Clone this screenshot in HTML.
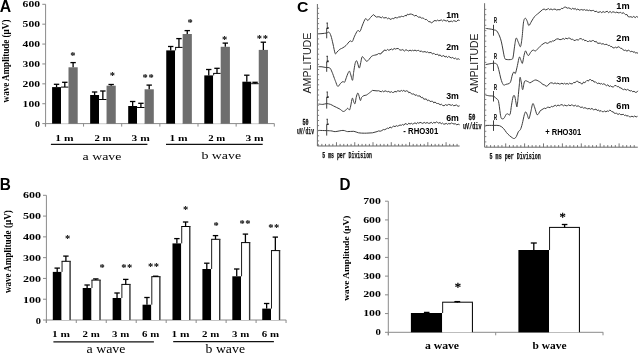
<!DOCTYPE html>
<html><head><meta charset="utf-8"><style>
html,body{margin:0;padding:0;background:#fff;}
body{width:639px;height:354px;overflow:hidden;}
svg{display:block;filter:grayscale(1);}
</style></head><body>
<svg width="639" height="354" viewBox="0 0 639 354">
<rect width="639" height="354" fill="#fff"/>
<text x="-0.20" y="11.60" font-family="'Liberation Sans', sans-serif" font-size="16.2" font-weight="bold" fill="#000" textLength="11.40" lengthAdjust="spacingAndGlyphs" >A</text>
<line x1="45.60" y1="4.30" x2="45.60" y2="126.60" stroke="#8a8a8a" stroke-width="1"/>
<line x1="45.60" y1="123.60" x2="274.40" y2="123.60" stroke="#8a8a8a" stroke-width="1"/>
<line x1="42.30" y1="4.30" x2="45.60" y2="4.30" stroke="#8a8a8a" stroke-width="1"/>
<text x="22.60" y="7.20" font-family="'Liberation Serif', serif" font-size="8.2" font-weight="bold" fill="#000" textLength="17.40" lengthAdjust="spacingAndGlyphs" >600</text>
<line x1="42.30" y1="24.18" x2="45.60" y2="24.18" stroke="#8a8a8a" stroke-width="1"/>
<text x="22.60" y="27.08" font-family="'Liberation Serif', serif" font-size="8.2" font-weight="bold" fill="#000" textLength="17.40" lengthAdjust="spacingAndGlyphs" >500</text>
<line x1="42.30" y1="44.07" x2="45.60" y2="44.07" stroke="#8a8a8a" stroke-width="1"/>
<text x="22.60" y="46.97" font-family="'Liberation Serif', serif" font-size="8.2" font-weight="bold" fill="#000" textLength="17.40" lengthAdjust="spacingAndGlyphs" >400</text>
<line x1="42.30" y1="63.95" x2="45.60" y2="63.95" stroke="#8a8a8a" stroke-width="1"/>
<text x="22.60" y="66.85" font-family="'Liberation Serif', serif" font-size="8.2" font-weight="bold" fill="#000" textLength="17.40" lengthAdjust="spacingAndGlyphs" >300</text>
<line x1="42.30" y1="83.83" x2="45.60" y2="83.83" stroke="#8a8a8a" stroke-width="1"/>
<text x="22.60" y="86.73" font-family="'Liberation Serif', serif" font-size="8.2" font-weight="bold" fill="#000" textLength="17.40" lengthAdjust="spacingAndGlyphs" >200</text>
<line x1="42.30" y1="103.72" x2="45.60" y2="103.72" stroke="#8a8a8a" stroke-width="1"/>
<text x="22.60" y="106.62" font-family="'Liberation Serif', serif" font-size="8.2" font-weight="bold" fill="#000" textLength="17.40" lengthAdjust="spacingAndGlyphs" >100</text>
<line x1="42.30" y1="123.60" x2="45.60" y2="123.60" stroke="#8a8a8a" stroke-width="1"/>
<text x="35.00" y="126.50" font-family="'Liberation Serif', serif" font-size="8.2" font-weight="bold" fill="#000" textLength="5.00" lengthAdjust="spacingAndGlyphs" >0</text>
<line x1="45.40" y1="123.60" x2="45.40" y2="126.60" stroke="#8a8a8a" stroke-width="1"/>
<line x1="83.55" y1="123.60" x2="83.55" y2="126.60" stroke="#8a8a8a" stroke-width="1"/>
<line x1="121.70" y1="123.60" x2="121.70" y2="126.60" stroke="#8a8a8a" stroke-width="1"/>
<line x1="159.85" y1="123.60" x2="159.85" y2="126.60" stroke="#8a8a8a" stroke-width="1"/>
<line x1="198.00" y1="123.60" x2="198.00" y2="126.60" stroke="#8a8a8a" stroke-width="1"/>
<line x1="236.15" y1="123.60" x2="236.15" y2="126.60" stroke="#8a8a8a" stroke-width="1"/>
<line x1="274.30" y1="123.60" x2="274.30" y2="126.60" stroke="#8a8a8a" stroke-width="1"/>
<rect x="52.10" y="87.10" width="8.90" height="36.50" fill="#000"/>
<rect x="61.00" y="87.10" width="7.50" height="36.50" fill="#fff"/>
<line x1="61.00" y1="87.10" x2="68.50" y2="87.10" stroke="#000" stroke-width="1.0"/>
<rect x="68.50" y="67.30" width="9.20" height="56.30" fill="#6e6e6e"/>
<line x1="56.55" y1="87.10" x2="56.55" y2="84.30" stroke="#000" stroke-width="1.3"/>
<line x1="53.85" y1="84.30" x2="59.25" y2="84.30" stroke="#000" stroke-width="1.3"/>
<line x1="64.80" y1="87.10" x2="64.80" y2="82.30" stroke="#000" stroke-width="1.3"/>
<line x1="62.10" y1="82.30" x2="67.50" y2="82.30" stroke="#000" stroke-width="1.3"/>
<line x1="73.10" y1="67.30" x2="73.10" y2="62.60" stroke="#000" stroke-width="1.3"/>
<line x1="70.40" y1="62.60" x2="75.80" y2="62.60" stroke="#000" stroke-width="1.3"/>
<rect x="90.15" y="95.00" width="8.90" height="28.60" fill="#000"/>
<rect x="99.05" y="99.50" width="7.50" height="24.10" fill="#fff"/>
<line x1="99.05" y1="99.50" x2="106.55" y2="99.50" stroke="#000" stroke-width="1.0"/>
<rect x="106.55" y="85.70" width="9.20" height="37.90" fill="#6e6e6e"/>
<line x1="94.60" y1="95.00" x2="94.60" y2="92.00" stroke="#000" stroke-width="1.3"/>
<line x1="91.90" y1="92.00" x2="97.30" y2="92.00" stroke="#000" stroke-width="1.3"/>
<line x1="102.85" y1="99.50" x2="102.85" y2="91.00" stroke="#000" stroke-width="1.3"/>
<line x1="100.15" y1="91.00" x2="105.55" y2="91.00" stroke="#000" stroke-width="1.3"/>
<line x1="111.15" y1="85.70" x2="111.15" y2="84.50" stroke="#000" stroke-width="1.3"/>
<line x1="108.45" y1="84.50" x2="113.85" y2="84.50" stroke="#000" stroke-width="1.3"/>
<rect x="128.20" y="106.00" width="8.90" height="17.60" fill="#000"/>
<rect x="137.10" y="107.50" width="7.50" height="16.10" fill="#fff"/>
<line x1="137.10" y1="107.50" x2="144.60" y2="107.50" stroke="#000" stroke-width="1.0"/>
<rect x="144.60" y="89.30" width="9.20" height="34.30" fill="#6e6e6e"/>
<line x1="132.65" y1="106.00" x2="132.65" y2="101.50" stroke="#000" stroke-width="1.3"/>
<line x1="129.95" y1="101.50" x2="135.35" y2="101.50" stroke="#000" stroke-width="1.3"/>
<line x1="140.90" y1="107.50" x2="140.90" y2="103.30" stroke="#000" stroke-width="1.3"/>
<line x1="138.20" y1="103.30" x2="143.60" y2="103.30" stroke="#000" stroke-width="1.3"/>
<line x1="149.20" y1="89.30" x2="149.20" y2="85.10" stroke="#000" stroke-width="1.3"/>
<line x1="146.50" y1="85.10" x2="151.90" y2="85.10" stroke="#000" stroke-width="1.3"/>
<rect x="166.25" y="50.40" width="8.90" height="73.20" fill="#000"/>
<rect x="175.15" y="47.40" width="7.50" height="76.20" fill="#fff"/>
<line x1="175.15" y1="47.40" x2="182.65" y2="47.40" stroke="#000" stroke-width="1.0"/>
<line x1="175.60" y1="47.40" x2="175.60" y2="50.40" stroke="#000" stroke-width="0.9"/>
<rect x="182.65" y="34.00" width="9.20" height="89.60" fill="#6e6e6e"/>
<line x1="170.70" y1="50.40" x2="170.70" y2="46.50" stroke="#000" stroke-width="1.3"/>
<line x1="168.00" y1="46.50" x2="173.40" y2="46.50" stroke="#000" stroke-width="1.3"/>
<line x1="178.95" y1="47.40" x2="178.95" y2="38.60" stroke="#000" stroke-width="1.3"/>
<line x1="176.25" y1="38.60" x2="181.65" y2="38.60" stroke="#000" stroke-width="1.3"/>
<line x1="187.25" y1="34.00" x2="187.25" y2="30.60" stroke="#000" stroke-width="1.3"/>
<line x1="184.55" y1="30.60" x2="189.95" y2="30.60" stroke="#000" stroke-width="1.3"/>
<rect x="204.30" y="75.40" width="8.90" height="48.20" fill="#000"/>
<rect x="213.20" y="73.40" width="7.50" height="50.20" fill="#fff"/>
<line x1="213.20" y1="73.40" x2="220.70" y2="73.40" stroke="#000" stroke-width="1.0"/>
<line x1="213.65" y1="73.40" x2="213.65" y2="75.40" stroke="#000" stroke-width="0.9"/>
<rect x="220.70" y="46.80" width="9.20" height="76.80" fill="#6e6e6e"/>
<line x1="208.75" y1="75.40" x2="208.75" y2="69.50" stroke="#000" stroke-width="1.3"/>
<line x1="206.05" y1="69.50" x2="211.45" y2="69.50" stroke="#000" stroke-width="1.3"/>
<line x1="217.00" y1="73.40" x2="217.00" y2="68.30" stroke="#000" stroke-width="1.3"/>
<line x1="214.30" y1="68.30" x2="219.70" y2="68.30" stroke="#000" stroke-width="1.3"/>
<line x1="225.30" y1="46.80" x2="225.30" y2="43.10" stroke="#000" stroke-width="1.3"/>
<line x1="222.60" y1="43.10" x2="228.00" y2="43.10" stroke="#000" stroke-width="1.3"/>
<rect x="242.35" y="81.70" width="8.90" height="41.90" fill="#000"/>
<rect x="251.25" y="83.70" width="7.50" height="39.90" fill="#fff"/>
<line x1="251.25" y1="83.70" x2="258.75" y2="83.70" stroke="#000" stroke-width="1.0"/>
<rect x="258.75" y="49.90" width="9.20" height="73.70" fill="#6e6e6e"/>
<line x1="246.80" y1="81.70" x2="246.80" y2="75.20" stroke="#000" stroke-width="1.3"/>
<line x1="244.10" y1="75.20" x2="249.50" y2="75.20" stroke="#000" stroke-width="1.3"/>
<line x1="255.05" y1="83.70" x2="255.05" y2="82.30" stroke="#000" stroke-width="1.3"/>
<line x1="252.35" y1="82.30" x2="257.75" y2="82.30" stroke="#000" stroke-width="1.3"/>
<line x1="263.35" y1="49.90" x2="263.35" y2="42.20" stroke="#000" stroke-width="1.3"/>
<line x1="260.65" y1="42.20" x2="266.05" y2="42.20" stroke="#000" stroke-width="1.3"/>
<text x="72.90" y="59.36" font-family="'Liberation Serif', serif" font-size="10.5" font-weight="bold" text-anchor="middle">*</text>
<text x="112.30" y="79.47" font-family="'Liberation Serif', serif" font-size="10.5" font-weight="bold" text-anchor="middle">*</text>
<text x="145.20" y="81.47" font-family="'Liberation Serif', serif" font-size="10.5" font-weight="bold" text-anchor="middle">*</text>
<text x="151.00" y="81.47" font-family="'Liberation Serif', serif" font-size="10.5" font-weight="bold" text-anchor="middle">*</text>
<text x="190.10" y="26.17" font-family="'Liberation Serif', serif" font-size="10.5" font-weight="bold" text-anchor="middle">*</text>
<text x="224.70" y="43.46" font-family="'Liberation Serif', serif" font-size="10.5" font-weight="bold" text-anchor="middle">*</text>
<text x="259.40" y="42.27" font-family="'Liberation Serif', serif" font-size="10.5" font-weight="bold" text-anchor="middle">*</text>
<text x="265.30" y="42.27" font-family="'Liberation Serif', serif" font-size="10.5" font-weight="bold" text-anchor="middle">*</text>
<text x="55.30" y="140.70" font-family="'Liberation Serif', serif" font-size="8.6" font-weight="bold" fill="#000" textLength="18.20" lengthAdjust="spacingAndGlyphs" >1 m</text>
<text x="94.50" y="140.70" font-family="'Liberation Serif', serif" font-size="8.6" font-weight="bold" fill="#000" textLength="17.00" lengthAdjust="spacingAndGlyphs" >2 m</text>
<text x="131.60" y="140.70" font-family="'Liberation Serif', serif" font-size="8.6" font-weight="bold" fill="#000" textLength="18.20" lengthAdjust="spacingAndGlyphs" >3 m</text>
<text x="169.50" y="140.70" font-family="'Liberation Serif', serif" font-size="8.6" font-weight="bold" fill="#000" textLength="18.20" lengthAdjust="spacingAndGlyphs" >1 m</text>
<text x="208.20" y="140.70" font-family="'Liberation Serif', serif" font-size="8.6" font-weight="bold" fill="#000" textLength="17.00" lengthAdjust="spacingAndGlyphs" >2 m</text>
<text x="245.40" y="140.70" font-family="'Liberation Serif', serif" font-size="8.6" font-weight="bold" fill="#000" textLength="18.20" lengthAdjust="spacingAndGlyphs" >3 m</text>
<line x1="50.90" y1="144.40" x2="147.40" y2="144.40" stroke="#111" stroke-width="1.2"/>
<line x1="166.00" y1="144.40" x2="262.70" y2="144.40" stroke="#111" stroke-width="1.2"/>
<text x="82.50" y="159.60" font-family="'Liberation Serif', serif" font-size="11.4" font-weight="normal" fill="#000" textLength="38.90" lengthAdjust="spacingAndGlyphs" >a wave</text>
<text x="201.40" y="159.40" font-family="'Liberation Serif', serif" font-size="11.4" font-weight="normal" fill="#000" textLength="39.70" lengthAdjust="spacingAndGlyphs" >b wave</text>
<text transform="translate(9.30,61.00) rotate(-90)" x="-41.40" y="0" font-family="'Liberation Serif', serif" font-size="10" font-weight="bold" fill="#000" textLength="82.80" lengthAdjust="spacingAndGlyphs">wave Amplitude (µV)</text>
<text x="-0.20" y="190.00" font-family="'Liberation Sans', sans-serif" font-size="16.0" font-weight="bold" fill="#000" textLength="11.10" lengthAdjust="spacingAndGlyphs" >B</text>
<line x1="46.40" y1="195.30" x2="46.40" y2="323.00" stroke="#8a8a8a" stroke-width="1"/>
<line x1="46.40" y1="320.00" x2="286.20" y2="320.00" stroke="#8a8a8a" stroke-width="1"/>
<line x1="43.00" y1="195.30" x2="46.40" y2="195.30" stroke="#8a8a8a" stroke-width="1"/>
<text x="22.90" y="197.90" font-family="'Liberation Serif', serif" font-size="9.0" font-weight="bold" fill="#000" textLength="18.00" lengthAdjust="spacingAndGlyphs" >600</text>
<line x1="43.00" y1="216.08" x2="46.40" y2="216.08" stroke="#8a8a8a" stroke-width="1"/>
<text x="22.90" y="218.87" font-family="'Liberation Serif', serif" font-size="9.0" font-weight="bold" fill="#000" textLength="18.00" lengthAdjust="spacingAndGlyphs" >500</text>
<line x1="43.00" y1="236.87" x2="46.40" y2="236.87" stroke="#8a8a8a" stroke-width="1"/>
<text x="22.90" y="239.84" font-family="'Liberation Serif', serif" font-size="9.0" font-weight="bold" fill="#000" textLength="18.00" lengthAdjust="spacingAndGlyphs" >400</text>
<line x1="43.00" y1="257.65" x2="46.40" y2="257.65" stroke="#8a8a8a" stroke-width="1"/>
<text x="22.90" y="260.81" font-family="'Liberation Serif', serif" font-size="9.0" font-weight="bold" fill="#000" textLength="18.00" lengthAdjust="spacingAndGlyphs" >300</text>
<line x1="43.00" y1="278.43" x2="46.40" y2="278.43" stroke="#8a8a8a" stroke-width="1"/>
<text x="22.90" y="281.78" font-family="'Liberation Serif', serif" font-size="9.0" font-weight="bold" fill="#000" textLength="18.00" lengthAdjust="spacingAndGlyphs" >200</text>
<line x1="43.00" y1="299.22" x2="46.40" y2="299.22" stroke="#8a8a8a" stroke-width="1"/>
<text x="22.90" y="302.75" font-family="'Liberation Serif', serif" font-size="9.0" font-weight="bold" fill="#000" textLength="18.00" lengthAdjust="spacingAndGlyphs" >100</text>
<line x1="43.00" y1="320.00" x2="46.40" y2="320.00" stroke="#8a8a8a" stroke-width="1"/>
<text x="35.70" y="323.72" font-family="'Liberation Serif', serif" font-size="9.0" font-weight="bold" fill="#000" textLength="5.20" lengthAdjust="spacingAndGlyphs" >0</text>
<line x1="46.30" y1="320.00" x2="46.30" y2="323.00" stroke="#8a8a8a" stroke-width="1"/>
<line x1="76.27" y1="320.00" x2="76.27" y2="323.00" stroke="#8a8a8a" stroke-width="1"/>
<line x1="106.24" y1="320.00" x2="106.24" y2="323.00" stroke="#8a8a8a" stroke-width="1"/>
<line x1="136.21" y1="320.00" x2="136.21" y2="323.00" stroke="#8a8a8a" stroke-width="1"/>
<line x1="166.18" y1="320.00" x2="166.18" y2="323.00" stroke="#8a8a8a" stroke-width="1"/>
<line x1="196.15" y1="320.00" x2="196.15" y2="323.00" stroke="#8a8a8a" stroke-width="1"/>
<line x1="226.12" y1="320.00" x2="226.12" y2="323.00" stroke="#8a8a8a" stroke-width="1"/>
<line x1="256.09" y1="320.00" x2="256.09" y2="323.00" stroke="#8a8a8a" stroke-width="1"/>
<line x1="286.06" y1="320.00" x2="286.06" y2="323.00" stroke="#8a8a8a" stroke-width="1"/>
<rect x="52.80" y="271.90" width="8.80" height="48.10" fill="#000"/>
<rect x="61.60" y="261.30" width="9.20" height="58.70" fill="#fff"/>
<line x1="61.60" y1="261.30" x2="70.80" y2="261.30" stroke="#000" stroke-width="1.0"/>
<line x1="62.05" y1="261.30" x2="62.05" y2="271.90" stroke="#000" stroke-width="0.9"/>
<line x1="70.10" y1="261.30" x2="70.10" y2="320.00" stroke="#333" stroke-width="1.4"/>
<line x1="57.20" y1="271.90" x2="57.20" y2="268.10" stroke="#000" stroke-width="1.3"/>
<line x1="54.50" y1="268.10" x2="59.90" y2="268.10" stroke="#000" stroke-width="1.3"/>
<line x1="65.90" y1="261.30" x2="65.90" y2="256.10" stroke="#000" stroke-width="1.3"/>
<line x1="63.20" y1="256.10" x2="68.60" y2="256.10" stroke="#000" stroke-width="1.3"/>
<rect x="82.72" y="288.00" width="8.80" height="32.00" fill="#000"/>
<rect x="91.52" y="280.10" width="9.20" height="39.90" fill="#fff"/>
<line x1="91.52" y1="280.10" x2="100.72" y2="280.10" stroke="#000" stroke-width="1.0"/>
<line x1="91.97" y1="280.10" x2="91.97" y2="288.00" stroke="#000" stroke-width="0.9"/>
<line x1="100.02" y1="280.10" x2="100.02" y2="320.00" stroke="#333" stroke-width="1.4"/>
<line x1="87.12" y1="288.00" x2="87.12" y2="285.00" stroke="#000" stroke-width="1.3"/>
<line x1="84.42" y1="285.00" x2="89.82" y2="285.00" stroke="#000" stroke-width="1.3"/>
<line x1="95.82" y1="280.10" x2="95.82" y2="278.90" stroke="#000" stroke-width="1.3"/>
<line x1="93.12" y1="278.90" x2="98.52" y2="278.90" stroke="#000" stroke-width="1.3"/>
<rect x="112.64" y="298.00" width="8.80" height="22.00" fill="#000"/>
<rect x="121.44" y="284.40" width="9.20" height="35.60" fill="#fff"/>
<line x1="121.44" y1="284.40" x2="130.64" y2="284.40" stroke="#000" stroke-width="1.0"/>
<line x1="121.89" y1="284.40" x2="121.89" y2="298.00" stroke="#000" stroke-width="0.9"/>
<line x1="129.94" y1="284.40" x2="129.94" y2="320.00" stroke="#333" stroke-width="1.4"/>
<line x1="117.04" y1="298.00" x2="117.04" y2="293.00" stroke="#000" stroke-width="1.3"/>
<line x1="114.34" y1="293.00" x2="119.74" y2="293.00" stroke="#000" stroke-width="1.3"/>
<line x1="125.74" y1="284.40" x2="125.74" y2="279.40" stroke="#000" stroke-width="1.3"/>
<line x1="123.04" y1="279.40" x2="128.44" y2="279.40" stroke="#000" stroke-width="1.3"/>
<rect x="142.56" y="304.70" width="8.80" height="15.30" fill="#000"/>
<rect x="151.36" y="276.70" width="9.20" height="43.30" fill="#fff"/>
<line x1="151.36" y1="276.70" x2="160.56" y2="276.70" stroke="#000" stroke-width="1.0"/>
<line x1="151.81" y1="276.70" x2="151.81" y2="304.70" stroke="#000" stroke-width="0.9"/>
<line x1="159.86" y1="276.70" x2="159.86" y2="320.00" stroke="#333" stroke-width="1.4"/>
<line x1="146.96" y1="304.70" x2="146.96" y2="297.50" stroke="#000" stroke-width="1.3"/>
<line x1="144.26" y1="297.50" x2="149.66" y2="297.50" stroke="#000" stroke-width="1.3"/>
<line x1="155.66" y1="276.70" x2="155.66" y2="276.20" stroke="#000" stroke-width="1.3"/>
<line x1="152.96" y1="276.20" x2="158.36" y2="276.20" stroke="#000" stroke-width="1.3"/>
<rect x="172.48" y="243.40" width="8.80" height="76.60" fill="#000"/>
<rect x="181.28" y="226.50" width="9.20" height="93.50" fill="#fff"/>
<line x1="181.28" y1="226.50" x2="190.48" y2="226.50" stroke="#000" stroke-width="1.0"/>
<line x1="181.73" y1="226.50" x2="181.73" y2="243.40" stroke="#000" stroke-width="0.9"/>
<line x1="189.78" y1="226.50" x2="189.78" y2="320.00" stroke="#333" stroke-width="1.4"/>
<line x1="176.88" y1="243.40" x2="176.88" y2="238.60" stroke="#000" stroke-width="1.3"/>
<line x1="174.18" y1="238.60" x2="179.58" y2="238.60" stroke="#000" stroke-width="1.3"/>
<line x1="185.58" y1="226.50" x2="185.58" y2="222.00" stroke="#000" stroke-width="1.3"/>
<line x1="182.88" y1="222.00" x2="188.28" y2="222.00" stroke="#000" stroke-width="1.3"/>
<rect x="202.40" y="269.00" width="8.80" height="51.00" fill="#000"/>
<rect x="211.20" y="239.30" width="9.20" height="80.70" fill="#fff"/>
<line x1="211.20" y1="239.30" x2="220.40" y2="239.30" stroke="#000" stroke-width="1.0"/>
<line x1="211.65" y1="239.30" x2="211.65" y2="269.00" stroke="#000" stroke-width="0.9"/>
<line x1="219.70" y1="239.30" x2="219.70" y2="320.00" stroke="#333" stroke-width="1.4"/>
<line x1="206.80" y1="269.00" x2="206.80" y2="263.20" stroke="#000" stroke-width="1.3"/>
<line x1="204.10" y1="263.20" x2="209.50" y2="263.20" stroke="#000" stroke-width="1.3"/>
<line x1="215.50" y1="239.30" x2="215.50" y2="235.60" stroke="#000" stroke-width="1.3"/>
<line x1="212.80" y1="235.60" x2="218.20" y2="235.60" stroke="#000" stroke-width="1.3"/>
<rect x="232.32" y="276.30" width="8.80" height="43.70" fill="#000"/>
<rect x="241.12" y="242.60" width="9.20" height="77.40" fill="#fff"/>
<line x1="241.12" y1="242.60" x2="250.32" y2="242.60" stroke="#000" stroke-width="1.0"/>
<line x1="241.57" y1="242.60" x2="241.57" y2="276.30" stroke="#000" stroke-width="0.9"/>
<line x1="249.62" y1="242.60" x2="249.62" y2="320.00" stroke="#333" stroke-width="1.4"/>
<line x1="236.72" y1="276.30" x2="236.72" y2="269.00" stroke="#000" stroke-width="1.3"/>
<line x1="234.02" y1="269.00" x2="239.42" y2="269.00" stroke="#000" stroke-width="1.3"/>
<line x1="245.42" y1="242.60" x2="245.42" y2="234.10" stroke="#000" stroke-width="1.3"/>
<line x1="242.72" y1="234.10" x2="248.12" y2="234.10" stroke="#000" stroke-width="1.3"/>
<rect x="262.24" y="308.60" width="8.80" height="11.40" fill="#000"/>
<rect x="271.04" y="250.60" width="9.20" height="69.40" fill="#fff"/>
<line x1="271.04" y1="250.60" x2="280.24" y2="250.60" stroke="#000" stroke-width="1.0"/>
<line x1="271.49" y1="250.60" x2="271.49" y2="308.60" stroke="#000" stroke-width="0.9"/>
<line x1="279.54" y1="250.60" x2="279.54" y2="320.00" stroke="#333" stroke-width="1.4"/>
<line x1="266.64" y1="308.60" x2="266.64" y2="303.50" stroke="#000" stroke-width="1.3"/>
<line x1="263.94" y1="303.50" x2="269.34" y2="303.50" stroke="#000" stroke-width="1.3"/>
<line x1="275.34" y1="250.60" x2="275.34" y2="237.10" stroke="#000" stroke-width="1.3"/>
<line x1="272.64" y1="237.10" x2="278.04" y2="237.10" stroke="#000" stroke-width="1.3"/>
<text x="67.50" y="242.47" font-family="'Liberation Serif', serif" font-size="10.5" font-weight="bold" text-anchor="middle">*</text>
<text x="102.20" y="271.37" font-family="'Liberation Serif', serif" font-size="10.5" font-weight="bold" text-anchor="middle">*</text>
<text x="123.80" y="270.67" font-family="'Liberation Serif', serif" font-size="10.5" font-weight="bold" text-anchor="middle">*</text>
<text x="129.70" y="270.67" font-family="'Liberation Serif', serif" font-size="10.5" font-weight="bold" text-anchor="middle">*</text>
<text x="150.50" y="270.26" font-family="'Liberation Serif', serif" font-size="10.5" font-weight="bold" text-anchor="middle">*</text>
<text x="156.40" y="270.26" font-family="'Liberation Serif', serif" font-size="10.5" font-weight="bold" text-anchor="middle">*</text>
<text x="185.70" y="213.16" font-family="'Liberation Serif', serif" font-size="10.5" font-weight="bold" text-anchor="middle">*</text>
<text x="216.20" y="229.37" font-family="'Liberation Serif', serif" font-size="10.5" font-weight="bold" text-anchor="middle">*</text>
<text x="242.00" y="226.56" font-family="'Liberation Serif', serif" font-size="10.5" font-weight="bold" text-anchor="middle">*</text>
<text x="247.80" y="226.56" font-family="'Liberation Serif', serif" font-size="10.5" font-weight="bold" text-anchor="middle">*</text>
<text x="270.90" y="230.56" font-family="'Liberation Serif', serif" font-size="10.5" font-weight="bold" text-anchor="middle">*</text>
<text x="276.60" y="230.56" font-family="'Liberation Serif', serif" font-size="10.5" font-weight="bold" text-anchor="middle">*</text>
<text x="52.00" y="336.70" font-family="'Liberation Serif', serif" font-size="8.6" font-weight="bold" fill="#000" textLength="18.00" lengthAdjust="spacingAndGlyphs" >1 m</text>
<text x="82.50" y="336.70" font-family="'Liberation Serif', serif" font-size="8.6" font-weight="bold" fill="#000" textLength="17.20" lengthAdjust="spacingAndGlyphs" >2 m</text>
<text x="112.10" y="336.70" font-family="'Liberation Serif', serif" font-size="8.6" font-weight="bold" fill="#000" textLength="17.20" lengthAdjust="spacingAndGlyphs" >3 m</text>
<text x="142.10" y="336.70" font-family="'Liberation Serif', serif" font-size="8.6" font-weight="bold" fill="#000" textLength="17.20" lengthAdjust="spacingAndGlyphs" >6 m</text>
<text x="171.40" y="336.70" font-family="'Liberation Serif', serif" font-size="8.6" font-weight="bold" fill="#000" textLength="18.00" lengthAdjust="spacingAndGlyphs" >1 m</text>
<text x="202.10" y="336.70" font-family="'Liberation Serif', serif" font-size="8.6" font-weight="bold" fill="#000" textLength="17.20" lengthAdjust="spacingAndGlyphs" >2 m</text>
<text x="232.10" y="336.70" font-family="'Liberation Serif', serif" font-size="8.6" font-weight="bold" fill="#000" textLength="17.20" lengthAdjust="spacingAndGlyphs" >3 m</text>
<text x="261.80" y="336.70" font-family="'Liberation Serif', serif" font-size="8.6" font-weight="bold" fill="#000" textLength="17.20" lengthAdjust="spacingAndGlyphs" >6 m</text>
<line x1="53.40" y1="341.80" x2="153.90" y2="341.80" stroke="#111" stroke-width="1.3"/>
<line x1="173.20" y1="341.60" x2="273.90" y2="341.60" stroke="#111" stroke-width="1.3"/>
<text x="86.50" y="352.80" font-family="'Liberation Serif', serif" font-size="11.5" font-weight="normal" fill="#000" textLength="39.00" lengthAdjust="spacingAndGlyphs" >a wave</text>
<text x="205.60" y="352.50" font-family="'Liberation Serif', serif" font-size="11.5" font-weight="normal" fill="#000" textLength="39.40" lengthAdjust="spacingAndGlyphs" >b wave</text>
<text transform="translate(11.30,251.70) rotate(-90)" x="-41.40" y="0" font-family="'Liberation Serif', serif" font-size="10" font-weight="bold" fill="#000" textLength="82.80" lengthAdjust="spacingAndGlyphs">wave Amplitude (µV)</text>
<text x="339.40" y="190.10" font-family="'Liberation Sans', sans-serif" font-size="16.2" font-weight="bold" fill="#000" textLength="11.00" lengthAdjust="spacingAndGlyphs" >D</text>
<line x1="388.30" y1="201.20" x2="388.30" y2="335.30" stroke="#8a8a8a" stroke-width="1"/>
<line x1="388.30" y1="332.30" x2="603.20" y2="332.30" stroke="#8a8a8a" stroke-width="1"/>
<line x1="385.00" y1="201.20" x2="388.30" y2="201.20" stroke="#8a8a8a" stroke-width="1"/>
<text x="363.20" y="203.80" font-family="'Liberation Serif', serif" font-size="7.6" font-weight="bold" fill="#000" textLength="17.80" lengthAdjust="spacingAndGlyphs" >700</text>
<line x1="385.00" y1="219.93" x2="388.30" y2="219.93" stroke="#8a8a8a" stroke-width="1"/>
<text x="363.20" y="222.53" font-family="'Liberation Serif', serif" font-size="7.6" font-weight="bold" fill="#000" textLength="17.80" lengthAdjust="spacingAndGlyphs" >600</text>
<line x1="385.00" y1="238.66" x2="388.30" y2="238.66" stroke="#8a8a8a" stroke-width="1"/>
<text x="363.20" y="241.26" font-family="'Liberation Serif', serif" font-size="7.6" font-weight="bold" fill="#000" textLength="17.80" lengthAdjust="spacingAndGlyphs" >500</text>
<line x1="385.00" y1="257.39" x2="388.30" y2="257.39" stroke="#8a8a8a" stroke-width="1"/>
<text x="363.20" y="259.99" font-family="'Liberation Serif', serif" font-size="7.6" font-weight="bold" fill="#000" textLength="17.80" lengthAdjust="spacingAndGlyphs" >400</text>
<line x1="385.00" y1="276.11" x2="388.30" y2="276.11" stroke="#8a8a8a" stroke-width="1"/>
<text x="363.20" y="278.71" font-family="'Liberation Serif', serif" font-size="7.6" font-weight="bold" fill="#000" textLength="17.80" lengthAdjust="spacingAndGlyphs" >300</text>
<line x1="385.00" y1="294.84" x2="388.30" y2="294.84" stroke="#8a8a8a" stroke-width="1"/>
<text x="363.20" y="297.44" font-family="'Liberation Serif', serif" font-size="7.6" font-weight="bold" fill="#000" textLength="17.80" lengthAdjust="spacingAndGlyphs" >200</text>
<line x1="385.00" y1="313.57" x2="388.30" y2="313.57" stroke="#8a8a8a" stroke-width="1"/>
<text x="363.20" y="316.17" font-family="'Liberation Serif', serif" font-size="7.6" font-weight="bold" fill="#000" textLength="17.80" lengthAdjust="spacingAndGlyphs" >100</text>
<line x1="385.00" y1="332.30" x2="388.30" y2="332.30" stroke="#8a8a8a" stroke-width="1"/>
<text x="375.60" y="334.90" font-family="'Liberation Serif', serif" font-size="7.6" font-weight="bold" fill="#000" textLength="5.40" lengthAdjust="spacingAndGlyphs" >0</text>
<line x1="388.30" y1="332.30" x2="388.30" y2="335.30" stroke="#8a8a8a" stroke-width="1"/>
<line x1="495.70" y1="332.30" x2="495.70" y2="335.30" stroke="#8a8a8a" stroke-width="1"/>
<line x1="603.00" y1="332.30" x2="603.00" y2="335.30" stroke="#8a8a8a" stroke-width="1"/>
<rect x="410.90" y="313.00" width="31.30" height="19.30" fill="#000"/>
<rect x="442.20" y="302.20" width="30.80" height="30.10" fill="#fff"/>
<line x1="442.20" y1="302.20" x2="473.00" y2="302.20" stroke="#000" stroke-width="1.0"/>
<line x1="442.65" y1="302.20" x2="442.65" y2="313.00" stroke="#000" stroke-width="0.9"/>
<line x1="472.45" y1="302.20" x2="472.45" y2="332.30" stroke="#111" stroke-width="1.1"/>
<line x1="426.70" y1="313.00" x2="426.70" y2="312.40" stroke="#000" stroke-width="1.3"/>
<line x1="423.90" y1="312.40" x2="429.50" y2="312.40" stroke="#000" stroke-width="1.3"/>
<line x1="457.30" y1="302.40" x2="457.30" y2="301.60" stroke="#000" stroke-width="1.3"/>
<line x1="454.40" y1="301.60" x2="460.20" y2="301.60" stroke="#000" stroke-width="1.3"/>
<rect x="518.40" y="250.00" width="30.70" height="82.30" fill="#000"/>
<rect x="549.10" y="227.40" width="30.90" height="104.90" fill="#fff"/>
<line x1="549.10" y1="227.40" x2="580.00" y2="227.40" stroke="#000" stroke-width="1.0"/>
<line x1="549.55" y1="227.40" x2="549.55" y2="250.00" stroke="#000" stroke-width="0.9"/>
<line x1="579.45" y1="227.40" x2="579.45" y2="332.30" stroke="#111" stroke-width="1.1"/>
<line x1="533.80" y1="250.00" x2="533.80" y2="243.00" stroke="#000" stroke-width="1.3"/>
<line x1="530.80" y1="243.00" x2="536.80" y2="243.00" stroke="#000" stroke-width="1.3"/>
<line x1="564.60" y1="227.40" x2="564.60" y2="224.50" stroke="#000" stroke-width="1.3"/>
<line x1="561.80" y1="224.50" x2="567.40" y2="224.50" stroke="#000" stroke-width="1.3"/>
<text x="457.80" y="290.57" font-family="'Liberation Serif', serif" font-size="12.5" font-weight="normal" stroke="#000" stroke-width="0.35" text-anchor="middle">*</text>
<text x="562.50" y="220.68" font-family="'Liberation Serif', serif" font-size="12.5" font-weight="normal" stroke="#000" stroke-width="0.35" text-anchor="middle">*</text>
<text x="424.90" y="349.20" font-family="'Liberation Serif', serif" font-size="9.3" font-weight="bold" fill="#000" textLength="34.20" lengthAdjust="spacingAndGlyphs" >a wave</text>
<text x="532.60" y="349.00" font-family="'Liberation Serif', serif" font-size="9.3" font-weight="bold" fill="#000" textLength="33.90" lengthAdjust="spacingAndGlyphs" >b wave</text>
<text transform="translate(349.20,258.20) rotate(-90)" x="-42.45" y="0" font-family="'Liberation Serif', serif" font-size="9" font-weight="bold" fill="#000" textLength="84.90" lengthAdjust="spacingAndGlyphs">wave Amplitude (µV)</text>
<text x="296.90" y="11.90" font-family="'Liberation Sans', sans-serif" font-size="14.9" font-weight="bold" fill="#000" textLength="11.40" lengthAdjust="spacingAndGlyphs" >C</text>
<line x1="317.40" y1="4.00" x2="317.40" y2="146.00" stroke="#6a6a6a" stroke-width="1.0"/>
<line x1="317.40" y1="146.00" x2="459.60" y2="146.00" stroke="#6a6a6a" stroke-width="1.0"/>
<line x1="317.40" y1="140.90" x2="319.10" y2="140.90" stroke="#777" stroke-width="0.9"/>
<line x1="317.40" y1="135.80" x2="319.10" y2="135.80" stroke="#777" stroke-width="0.9"/>
<line x1="317.40" y1="130.70" x2="319.10" y2="130.70" stroke="#777" stroke-width="0.9"/>
<line x1="317.40" y1="125.60" x2="319.10" y2="125.60" stroke="#777" stroke-width="0.9"/>
<line x1="317.40" y1="120.50" x2="319.10" y2="120.50" stroke="#777" stroke-width="0.9"/>
<line x1="317.40" y1="115.40" x2="319.10" y2="115.40" stroke="#777" stroke-width="0.9"/>
<line x1="317.40" y1="110.30" x2="319.10" y2="110.30" stroke="#777" stroke-width="0.9"/>
<line x1="317.40" y1="105.20" x2="319.10" y2="105.20" stroke="#777" stroke-width="0.9"/>
<line x1="317.40" y1="100.10" x2="319.10" y2="100.10" stroke="#777" stroke-width="0.9"/>
<line x1="317.40" y1="95.00" x2="319.10" y2="95.00" stroke="#777" stroke-width="0.9"/>
<line x1="317.40" y1="89.90" x2="319.10" y2="89.90" stroke="#777" stroke-width="0.9"/>
<line x1="317.40" y1="84.80" x2="319.10" y2="84.80" stroke="#777" stroke-width="0.9"/>
<line x1="317.40" y1="79.70" x2="319.10" y2="79.70" stroke="#777" stroke-width="0.9"/>
<line x1="317.40" y1="74.60" x2="319.10" y2="74.60" stroke="#777" stroke-width="0.9"/>
<line x1="317.40" y1="69.50" x2="319.10" y2="69.50" stroke="#777" stroke-width="0.9"/>
<line x1="317.40" y1="64.40" x2="319.10" y2="64.40" stroke="#777" stroke-width="0.9"/>
<line x1="317.40" y1="59.30" x2="319.10" y2="59.30" stroke="#777" stroke-width="0.9"/>
<line x1="317.40" y1="54.20" x2="319.10" y2="54.20" stroke="#777" stroke-width="0.9"/>
<line x1="317.40" y1="49.10" x2="319.10" y2="49.10" stroke="#777" stroke-width="0.9"/>
<line x1="317.40" y1="44.00" x2="319.10" y2="44.00" stroke="#777" stroke-width="0.9"/>
<line x1="317.40" y1="38.90" x2="319.10" y2="38.90" stroke="#777" stroke-width="0.9"/>
<line x1="317.40" y1="33.80" x2="319.10" y2="33.80" stroke="#777" stroke-width="0.9"/>
<line x1="317.40" y1="28.70" x2="319.10" y2="28.70" stroke="#777" stroke-width="0.9"/>
<line x1="317.40" y1="23.60" x2="319.10" y2="23.60" stroke="#777" stroke-width="0.9"/>
<line x1="317.40" y1="18.50" x2="319.10" y2="18.50" stroke="#777" stroke-width="0.9"/>
<line x1="317.40" y1="13.40" x2="319.10" y2="13.40" stroke="#777" stroke-width="0.9"/>
<line x1="317.40" y1="8.30" x2="319.10" y2="8.30" stroke="#777" stroke-width="0.9"/>
<line x1="318.20" y1="146.00" x2="318.20" y2="143.90" stroke="#666" stroke-width="0.9"/>
<line x1="321.85" y1="146.00" x2="321.85" y2="143.90" stroke="#666" stroke-width="0.9"/>
<line x1="325.51" y1="146.00" x2="325.51" y2="143.90" stroke="#666" stroke-width="0.9"/>
<line x1="329.16" y1="146.00" x2="329.16" y2="143.90" stroke="#666" stroke-width="0.9"/>
<line x1="332.82" y1="146.00" x2="332.82" y2="143.90" stroke="#666" stroke-width="0.9"/>
<line x1="336.47" y1="146.00" x2="336.47" y2="142.20" stroke="#666" stroke-width="0.9"/>
<line x1="340.12" y1="146.00" x2="340.12" y2="143.90" stroke="#666" stroke-width="0.9"/>
<line x1="343.78" y1="146.00" x2="343.78" y2="143.90" stroke="#666" stroke-width="0.9"/>
<line x1="347.43" y1="146.00" x2="347.43" y2="143.90" stroke="#666" stroke-width="0.9"/>
<line x1="351.09" y1="146.00" x2="351.09" y2="143.90" stroke="#666" stroke-width="0.9"/>
<line x1="354.74" y1="146.00" x2="354.74" y2="142.20" stroke="#666" stroke-width="0.9"/>
<line x1="358.39" y1="146.00" x2="358.39" y2="143.90" stroke="#666" stroke-width="0.9"/>
<line x1="362.05" y1="146.00" x2="362.05" y2="143.90" stroke="#666" stroke-width="0.9"/>
<line x1="365.70" y1="146.00" x2="365.70" y2="143.90" stroke="#666" stroke-width="0.9"/>
<line x1="369.36" y1="146.00" x2="369.36" y2="143.90" stroke="#666" stroke-width="0.9"/>
<line x1="373.01" y1="146.00" x2="373.01" y2="142.20" stroke="#666" stroke-width="0.9"/>
<line x1="376.66" y1="146.00" x2="376.66" y2="143.90" stroke="#666" stroke-width="0.9"/>
<line x1="380.32" y1="146.00" x2="380.32" y2="143.90" stroke="#666" stroke-width="0.9"/>
<line x1="383.97" y1="146.00" x2="383.97" y2="143.90" stroke="#666" stroke-width="0.9"/>
<line x1="387.63" y1="146.00" x2="387.63" y2="143.90" stroke="#666" stroke-width="0.9"/>
<line x1="391.28" y1="146.00" x2="391.28" y2="142.20" stroke="#666" stroke-width="0.9"/>
<line x1="394.93" y1="146.00" x2="394.93" y2="143.90" stroke="#666" stroke-width="0.9"/>
<line x1="398.59" y1="146.00" x2="398.59" y2="143.90" stroke="#666" stroke-width="0.9"/>
<line x1="402.24" y1="146.00" x2="402.24" y2="143.90" stroke="#666" stroke-width="0.9"/>
<line x1="405.90" y1="146.00" x2="405.90" y2="143.90" stroke="#666" stroke-width="0.9"/>
<line x1="409.55" y1="146.00" x2="409.55" y2="142.20" stroke="#666" stroke-width="0.9"/>
<line x1="413.20" y1="146.00" x2="413.20" y2="143.90" stroke="#666" stroke-width="0.9"/>
<line x1="416.86" y1="146.00" x2="416.86" y2="143.90" stroke="#666" stroke-width="0.9"/>
<line x1="420.51" y1="146.00" x2="420.51" y2="143.90" stroke="#666" stroke-width="0.9"/>
<line x1="424.17" y1="146.00" x2="424.17" y2="143.90" stroke="#666" stroke-width="0.9"/>
<line x1="427.82" y1="146.00" x2="427.82" y2="142.20" stroke="#666" stroke-width="0.9"/>
<line x1="431.47" y1="146.00" x2="431.47" y2="143.90" stroke="#666" stroke-width="0.9"/>
<line x1="435.13" y1="146.00" x2="435.13" y2="143.90" stroke="#666" stroke-width="0.9"/>
<line x1="438.78" y1="146.00" x2="438.78" y2="143.90" stroke="#666" stroke-width="0.9"/>
<line x1="442.44" y1="146.00" x2="442.44" y2="143.90" stroke="#666" stroke-width="0.9"/>
<line x1="446.09" y1="146.00" x2="446.09" y2="142.20" stroke="#666" stroke-width="0.9"/>
<line x1="449.74" y1="146.00" x2="449.74" y2="143.90" stroke="#666" stroke-width="0.9"/>
<line x1="453.40" y1="146.00" x2="453.40" y2="143.90" stroke="#666" stroke-width="0.9"/>
<line x1="457.05" y1="146.00" x2="457.05" y2="143.90" stroke="#666" stroke-width="0.9"/>
<text transform="translate(311.30,63.10) rotate(-90)" x="-30.50" y="0" font-family="'Liberation Sans', sans-serif" font-size="10.8" font-weight="normal" fill="#222" textLength="61.00" lengthAdjust="spacingAndGlyphs">AMPLITUDE</text>
<text x="302.50" y="125.20" font-family="'Liberation Mono', monospace" font-size="9.0" font-weight="bold" fill="#111" textLength="6.10" lengthAdjust="spacingAndGlyphs" stroke="#111" stroke-width="0.3">50</text>
<text x="296.90" y="133.60" font-family="'Liberation Mono', monospace" font-size="8.6" font-weight="bold" fill="#111" textLength="17.10" lengthAdjust="spacingAndGlyphs" stroke="#111" stroke-width="0.25">uV/div</text>
<text x="322.30" y="158.30" font-family="'Liberation Mono', monospace" font-size="8.4" font-weight="bold" fill="#111" textLength="49.70" lengthAdjust="spacingAndGlyphs" stroke="#111" stroke-width="0.25">5 ms per Division</text>
<line x1="484.60" y1="3.20" x2="484.60" y2="147.20" stroke="#6a6a6a" stroke-width="1.0"/>
<line x1="484.60" y1="147.20" x2="637.80" y2="147.20" stroke="#6a6a6a" stroke-width="1.0"/>
<line x1="484.60" y1="141.90" x2="486.30" y2="141.90" stroke="#777" stroke-width="0.9"/>
<line x1="484.60" y1="136.60" x2="486.30" y2="136.60" stroke="#777" stroke-width="0.9"/>
<line x1="484.60" y1="131.30" x2="486.30" y2="131.30" stroke="#777" stroke-width="0.9"/>
<line x1="484.60" y1="126.00" x2="486.30" y2="126.00" stroke="#777" stroke-width="0.9"/>
<line x1="484.60" y1="120.70" x2="486.30" y2="120.70" stroke="#777" stroke-width="0.9"/>
<line x1="484.60" y1="115.40" x2="486.30" y2="115.40" stroke="#777" stroke-width="0.9"/>
<line x1="484.60" y1="110.10" x2="486.30" y2="110.10" stroke="#777" stroke-width="0.9"/>
<line x1="484.60" y1="104.80" x2="486.30" y2="104.80" stroke="#777" stroke-width="0.9"/>
<line x1="484.60" y1="99.50" x2="486.30" y2="99.50" stroke="#777" stroke-width="0.9"/>
<line x1="484.60" y1="94.20" x2="486.30" y2="94.20" stroke="#777" stroke-width="0.9"/>
<line x1="484.60" y1="88.90" x2="486.30" y2="88.90" stroke="#777" stroke-width="0.9"/>
<line x1="484.60" y1="83.60" x2="486.30" y2="83.60" stroke="#777" stroke-width="0.9"/>
<line x1="484.60" y1="78.30" x2="486.30" y2="78.30" stroke="#777" stroke-width="0.9"/>
<line x1="484.60" y1="73.00" x2="486.30" y2="73.00" stroke="#777" stroke-width="0.9"/>
<line x1="484.60" y1="67.70" x2="486.30" y2="67.70" stroke="#777" stroke-width="0.9"/>
<line x1="484.60" y1="62.40" x2="486.30" y2="62.40" stroke="#777" stroke-width="0.9"/>
<line x1="484.60" y1="57.10" x2="486.30" y2="57.10" stroke="#777" stroke-width="0.9"/>
<line x1="484.60" y1="51.80" x2="486.30" y2="51.80" stroke="#777" stroke-width="0.9"/>
<line x1="484.60" y1="46.50" x2="486.30" y2="46.50" stroke="#777" stroke-width="0.9"/>
<line x1="484.60" y1="41.20" x2="486.30" y2="41.20" stroke="#777" stroke-width="0.9"/>
<line x1="484.60" y1="35.90" x2="486.30" y2="35.90" stroke="#777" stroke-width="0.9"/>
<line x1="484.60" y1="30.60" x2="486.30" y2="30.60" stroke="#777" stroke-width="0.9"/>
<line x1="484.60" y1="25.30" x2="486.30" y2="25.30" stroke="#777" stroke-width="0.9"/>
<line x1="484.60" y1="20.00" x2="486.30" y2="20.00" stroke="#777" stroke-width="0.9"/>
<line x1="484.60" y1="14.70" x2="486.30" y2="14.70" stroke="#777" stroke-width="0.9"/>
<line x1="484.60" y1="9.40" x2="486.30" y2="9.40" stroke="#777" stroke-width="0.9"/>
<line x1="486.80" y1="147.20" x2="486.80" y2="145.10" stroke="#666" stroke-width="0.9"/>
<line x1="490.58" y1="147.20" x2="490.58" y2="145.10" stroke="#666" stroke-width="0.9"/>
<line x1="494.36" y1="147.20" x2="494.36" y2="145.10" stroke="#666" stroke-width="0.9"/>
<line x1="498.14" y1="147.20" x2="498.14" y2="145.10" stroke="#666" stroke-width="0.9"/>
<line x1="501.92" y1="147.20" x2="501.92" y2="145.10" stroke="#666" stroke-width="0.9"/>
<line x1="505.70" y1="147.20" x2="505.70" y2="143.40" stroke="#666" stroke-width="0.9"/>
<line x1="509.48" y1="147.20" x2="509.48" y2="145.10" stroke="#666" stroke-width="0.9"/>
<line x1="513.26" y1="147.20" x2="513.26" y2="145.10" stroke="#666" stroke-width="0.9"/>
<line x1="517.04" y1="147.20" x2="517.04" y2="145.10" stroke="#666" stroke-width="0.9"/>
<line x1="520.82" y1="147.20" x2="520.82" y2="145.10" stroke="#666" stroke-width="0.9"/>
<line x1="524.60" y1="147.20" x2="524.60" y2="143.40" stroke="#666" stroke-width="0.9"/>
<line x1="528.38" y1="147.20" x2="528.38" y2="145.10" stroke="#666" stroke-width="0.9"/>
<line x1="532.16" y1="147.20" x2="532.16" y2="145.10" stroke="#666" stroke-width="0.9"/>
<line x1="535.94" y1="147.20" x2="535.94" y2="145.10" stroke="#666" stroke-width="0.9"/>
<line x1="539.72" y1="147.20" x2="539.72" y2="145.10" stroke="#666" stroke-width="0.9"/>
<line x1="543.50" y1="147.20" x2="543.50" y2="143.40" stroke="#666" stroke-width="0.9"/>
<line x1="547.28" y1="147.20" x2="547.28" y2="145.10" stroke="#666" stroke-width="0.9"/>
<line x1="551.06" y1="147.20" x2="551.06" y2="145.10" stroke="#666" stroke-width="0.9"/>
<line x1="554.84" y1="147.20" x2="554.84" y2="145.10" stroke="#666" stroke-width="0.9"/>
<line x1="558.62" y1="147.20" x2="558.62" y2="145.10" stroke="#666" stroke-width="0.9"/>
<line x1="562.40" y1="147.20" x2="562.40" y2="143.40" stroke="#666" stroke-width="0.9"/>
<line x1="566.18" y1="147.20" x2="566.18" y2="145.10" stroke="#666" stroke-width="0.9"/>
<line x1="569.96" y1="147.20" x2="569.96" y2="145.10" stroke="#666" stroke-width="0.9"/>
<line x1="573.74" y1="147.20" x2="573.74" y2="145.10" stroke="#666" stroke-width="0.9"/>
<line x1="577.52" y1="147.20" x2="577.52" y2="145.10" stroke="#666" stroke-width="0.9"/>
<line x1="581.30" y1="147.20" x2="581.30" y2="143.40" stroke="#666" stroke-width="0.9"/>
<line x1="585.08" y1="147.20" x2="585.08" y2="145.10" stroke="#666" stroke-width="0.9"/>
<line x1="588.86" y1="147.20" x2="588.86" y2="145.10" stroke="#666" stroke-width="0.9"/>
<line x1="592.64" y1="147.20" x2="592.64" y2="145.10" stroke="#666" stroke-width="0.9"/>
<line x1="596.42" y1="147.20" x2="596.42" y2="145.10" stroke="#666" stroke-width="0.9"/>
<line x1="600.20" y1="147.20" x2="600.20" y2="143.40" stroke="#666" stroke-width="0.9"/>
<line x1="603.98" y1="147.20" x2="603.98" y2="145.10" stroke="#666" stroke-width="0.9"/>
<line x1="607.76" y1="147.20" x2="607.76" y2="145.10" stroke="#666" stroke-width="0.9"/>
<line x1="611.54" y1="147.20" x2="611.54" y2="145.10" stroke="#666" stroke-width="0.9"/>
<line x1="615.32" y1="147.20" x2="615.32" y2="145.10" stroke="#666" stroke-width="0.9"/>
<line x1="619.10" y1="147.20" x2="619.10" y2="143.40" stroke="#666" stroke-width="0.9"/>
<line x1="622.88" y1="147.20" x2="622.88" y2="145.10" stroke="#666" stroke-width="0.9"/>
<line x1="626.66" y1="147.20" x2="626.66" y2="145.10" stroke="#666" stroke-width="0.9"/>
<line x1="630.44" y1="147.20" x2="630.44" y2="145.10" stroke="#666" stroke-width="0.9"/>
<line x1="634.22" y1="147.20" x2="634.22" y2="145.10" stroke="#666" stroke-width="0.9"/>
<text transform="translate(478.00,63.25) rotate(-90)" x="-29.65" y="0" font-family="'Liberation Sans', sans-serif" font-size="10.8" font-weight="normal" fill="#222" textLength="59.30" lengthAdjust="spacingAndGlyphs">AMPLITUDE</text>
<text x="468.60" y="120.30" font-family="'Liberation Mono', monospace" font-size="9.0" font-weight="bold" fill="#111" textLength="6.80" lengthAdjust="spacingAndGlyphs" stroke="#111" stroke-width="0.3">50</text>
<text x="462.90" y="128.70" font-family="'Liberation Mono', monospace" font-size="8.6" font-weight="bold" fill="#111" textLength="18.70" lengthAdjust="spacingAndGlyphs" stroke="#111" stroke-width="0.25">uV/div</text>
<text x="489.60" y="159.30" font-family="'Liberation Mono', monospace" font-size="8.4" font-weight="bold" fill="#111" textLength="51.20" lengthAdjust="spacingAndGlyphs" stroke="#111" stroke-width="0.25">5 ms per Division</text>
<path d="M318.50,33.80 C319.08,33.77 320.65,33.73 322.00,33.60 C323.35,33.47 325.43,33.23 326.60,33.00 C327.77,32.77 328.27,31.70 329.00,32.20 C329.73,32.70 330.33,34.03 331.00,36.00 C331.67,37.97 332.30,41.08 333.00,44.00 C333.70,46.92 334.53,52.17 335.20,53.50 C335.87,54.83 336.22,52.70 337.00,52.00 C337.78,51.30 339.15,49.88 339.90,49.30 C340.65,48.72 340.98,48.77 341.50,48.50 C342.02,48.23 342.25,48.20 343.00,47.70 C343.75,47.20 344.83,46.62 346.00,45.50 C347.17,44.38 348.95,41.67 350.00,41.00 C351.05,40.33 351.53,42.32 352.30,41.50 C353.07,40.68 353.70,37.92 354.60,36.10 C355.50,34.28 356.80,31.38 357.70,30.60 C358.60,29.82 359.20,32.33 360.00,31.40 C360.80,30.47 361.58,27.12 362.50,25.00 C363.42,22.88 364.62,19.45 365.50,18.70 C366.38,17.95 366.97,20.70 367.80,20.50 C368.63,20.30 369.58,18.48 370.50,17.50 C371.42,16.52 372.83,15.08 373.30,14.60 L376.40,17.10 L378.20,16.73 L380.00,17.00 L381.25,17.87 L382.50,16.77 L383.75,17.98 L385.00,17.80 L386.26,17.54 L387.52,18.75 L388.78,17.94 L390.04,19.40 L391.30,19.00 L392.55,18.40 L393.80,18.66 L395.05,17.43 L396.30,17.80 L397.54,18.01 L398.78,16.65 L400.02,17.27 L401.26,16.29 L402.50,16.50 L403.75,16.69 L405.00,15.30 L406.25,15.97 L407.50,14.13 L408.75,14.68 L410.00,14.00 L411.60,14.19 L413.20,14.90 L414.63,15.95 L416.07,15.25 L417.50,16.50 L418.77,17.32 L420.05,16.89 L421.33,18.09 L422.60,18.00 L423.85,18.36 L425.10,19.61 L426.35,19.41 L427.60,20.50 L428.83,21.76 L430.07,21.67 L431.30,22.80 L432.53,22.40 L433.77,20.91 L435.00,20.50 L436.25,20.98 L437.50,20.11 L438.75,20.76 L440.00,20.50 L441.25,19.83 L442.50,21.03 L443.75,19.93 L445.00,20.50 L446.25,21.09 L447.50,20.25 L448.75,21.93 L450.00,21.50 L451.25,21.09 L452.50,21.72 L453.75,20.59 L455.00,21.10 L456.53,21.51 L458.07,19.98 L459.60,20.50" fill="none" stroke="#3d3d3d" stroke-width="1.0" stroke-linejoin="round"/>
<path d="M318.50,66.70 C319.08,66.72 320.77,66.67 322.00,66.80 C323.23,66.93 324.60,67.30 325.90,67.50 C327.20,67.70 328.77,67.22 329.80,68.00 C330.83,68.78 331.33,70.47 332.10,72.20 C332.87,73.93 333.82,76.85 334.40,78.40 C334.98,79.95 335.03,80.17 335.60,81.50 C336.17,82.83 336.97,86.10 337.80,86.40 C338.63,86.70 339.75,84.10 340.60,83.30 C341.45,82.50 342.23,81.78 342.90,81.60 C343.57,81.42 344.03,82.85 344.60,82.20 C345.17,81.55 345.73,79.20 346.30,77.70 C346.87,76.20 347.47,74.28 348.00,73.20 C348.53,72.12 349.03,70.92 349.50,71.20 C349.97,71.48 350.30,73.38 350.80,74.90 C351.30,76.42 352.03,80.68 352.50,80.30 C352.97,79.92 353.17,75.38 353.60,72.60 C354.03,69.82 354.62,65.58 355.10,63.60 C355.58,61.62 356.08,60.80 356.50,60.70 C356.92,60.60 357.13,61.77 357.60,63.00 C358.07,64.23 358.77,68.20 359.30,68.10 C359.83,68.00 360.33,64.28 360.80,62.40 C361.27,60.52 361.53,57.45 362.10,56.80 C362.67,56.15 363.45,57.75 364.20,58.50 C364.95,59.25 365.82,61.12 366.60,61.30 C367.38,61.48 368.05,60.45 368.90,59.60 C369.75,58.75 370.68,56.95 371.70,56.20 C372.72,55.45 374.45,55.28 375.00,55.10 L377.10,54.60 L378.55,53.52 L380.00,53.90 L381.00,53.86 L382.00,52.10 L383.00,51.91 L384.00,50.19 L385.00,50.10 L386.25,50.64 L387.50,49.37 L388.75,50.28 L390.00,49.80 L391.38,48.99 L392.76,49.83 L394.14,48.48 L395.52,49.09 L396.90,48.50 L398.37,48.57 L399.83,50.01 L401.30,50.10 L402.85,49.59 L404.40,51.05 L405.95,49.68 L407.50,50.50 L408.75,51.02 L410.00,50.03 L411.25,50.88 L412.50,50.23 L413.75,50.76 L415.00,50.02 L416.25,50.91 L417.50,50.50 L418.76,50.32 L420.02,51.72 L421.28,50.77 L422.54,52.07 L423.80,51.80 L425.04,51.59 L426.28,52.38 L427.52,51.87 L428.76,52.76 L430.00,52.60 L431.26,52.47 L432.52,54.11 L433.78,53.15 L435.04,54.46 L436.30,54.50 L437.56,54.10 L438.82,55.75 L440.08,54.78 L441.34,56.40 L442.60,56.00 L443.83,55.59 L445.07,57.08 L446.30,56.22 L447.53,57.61 L448.77,56.35 L450.00,57.30 L451.37,57.94 L452.74,57.30 L454.11,58.85 L455.49,58.08 L456.86,59.39 L458.23,58.69 L459.60,59.50" fill="none" stroke="#3d3d3d" stroke-width="1.0" stroke-linejoin="round"/>
<path d="M318.50,104.00 C319.22,104.07 321.43,104.47 322.80,104.40 C324.17,104.33 325.42,103.60 326.70,103.60 C327.98,103.60 329.35,104.00 330.50,104.40 C331.65,104.80 332.57,105.48 333.60,106.00 C334.63,106.52 335.65,106.98 336.70,107.50 C337.75,108.02 338.85,108.45 339.90,109.10 C340.95,109.75 342.10,111.15 343.00,111.40 C343.90,111.65 344.53,111.12 345.30,110.60 C346.07,110.08 346.90,108.42 347.60,108.30 C348.30,108.18 348.98,110.28 349.50,109.90 C350.02,109.52 350.23,107.95 350.70,106.00 C351.17,104.05 351.78,98.85 352.30,98.20 C352.82,97.55 353.33,101.20 353.80,102.10 C354.27,103.00 354.70,104.38 355.10,103.60 C355.50,102.82 355.77,99.15 356.20,97.40 C356.63,95.65 357.27,93.48 357.70,93.10 C358.13,92.72 358.35,93.87 358.80,95.10 C359.25,96.33 359.93,100.12 360.40,100.50 C360.87,100.88 361.02,98.22 361.60,97.40 C362.18,96.58 363.12,95.98 363.90,95.60 C364.68,95.22 365.52,95.45 366.30,95.10 C367.08,94.75 367.57,94.28 368.60,93.50 C369.63,92.72 371.85,90.92 372.50,90.40 L377.10,90.90 L378.55,90.73 L380.00,91.30 L381.26,91.82 L382.52,90.87 L383.78,91.85 L385.04,90.74 L386.30,91.30 L387.55,91.75 L388.80,91.38 L390.05,92.47 L391.30,91.59 L392.55,92.50 L393.80,92.30 L395.05,91.23 L396.30,92.14 L397.55,90.66 L398.80,91.00 L400.05,91.45 L401.30,90.36 L402.55,91.23 L403.80,90.30 L405.05,91.52 L406.30,90.80 L407.54,90.95 L408.78,92.74 L410.02,92.19 L411.26,93.72 L412.50,94.10 L413.76,93.85 L415.02,95.41 L416.28,94.84 L417.54,95.89 L418.80,96.00 L420.04,95.94 L421.28,97.73 L422.52,97.25 L423.76,99.17 L425.00,99.10 L426.26,98.93 L427.52,100.69 L428.78,99.97 L430.04,101.51 L431.30,101.30 L432.56,101.27 L433.82,102.90 L435.08,101.93 L436.34,103.36 L437.60,103.50 L438.85,103.66 L440.10,104.81 L441.35,104.19 L442.60,105.40 L444.08,105.75 L445.56,104.60 L447.04,105.44 L448.52,104.42 L450.00,104.80 L451.25,105.39 L452.50,104.67 L453.75,105.79 L455.00,105.40 L456.53,104.99 L458.07,106.37 L459.60,105.80" fill="none" stroke="#3d3d3d" stroke-width="1.0" stroke-linejoin="round"/>
<path d="M318.50,130.40 C320.50,130.47 327.72,130.60 330.50,130.80 C333.28,131.00 333.12,131.67 335.20,131.60 C337.28,131.53 340.93,130.40 343.00,130.40 C345.07,130.40 345.80,131.45 347.60,131.60 C349.40,131.75 351.98,131.10 353.80,131.30 C355.62,131.50 356.68,132.48 358.50,132.80 C360.32,133.12 362.37,133.20 364.70,133.20 C367.03,133.20 371.20,132.87 372.50,132.80 L377.10,131.60 L378.67,130.90 L380.23,131.23 L381.80,130.60 L383.30,129.55 L384.80,129.73 L386.30,128.80 L387.54,128.14 L388.78,128.49 L390.02,126.95 L391.26,127.93 L392.50,126.90 L393.76,126.01 L395.02,126.74 L396.28,125.60 L397.54,126.25 L398.80,125.60 L400.05,125.00 L401.30,125.37 L402.55,124.44 L403.80,125.25 L405.05,123.60 L406.30,124.00 L407.55,124.57 L408.80,123.18 L410.05,124.10 L411.30,123.26 L412.55,124.15 L413.80,123.50 L415.05,122.77 L416.30,123.94 L417.55,122.46 L418.80,123.33 L420.05,122.36 L421.30,122.80 L422.75,123.44 L424.20,122.40 L425.65,123.29 L427.10,122.51 L428.55,123.34 L430.00,123.10 L431.27,122.28 L432.53,123.58 L433.80,122.28 L435.07,123.10 L436.33,121.90 L437.60,122.50 L438.83,123.29 L440.07,122.31 L441.30,123.92 L442.53,123.00 L443.77,124.21 L445.00,124.00 L446.27,123.37 L447.53,124.30 L448.80,123.42 L450.07,124.07 L451.33,122.93 L452.60,123.50 L454.00,124.03 L455.40,123.75 L456.80,124.84 L458.20,124.15 L459.60,124.80" fill="none" stroke="#3d3d3d" stroke-width="1.0" stroke-linejoin="round"/>
<line x1="326.70" y1="28.70" x2="326.70" y2="38.30" stroke="#3d3d3d" stroke-width="1.0"/>
<line x1="326.50" y1="23.10" x2="327.90" y2="23.10" stroke="#3d3d3d" stroke-width="1.1"/>
<line x1="327.30" y1="23.10" x2="327.30" y2="27.60" stroke="#3d3d3d" stroke-width="0.9"/>
<path d="M326.2,29.00 L326.9,27.30 L328.8,27.30 L328.6,29.00 Z" fill="#222"/>
<line x1="326.70" y1="62.00" x2="326.70" y2="71.80" stroke="#3d3d3d" stroke-width="1.0"/>
<line x1="326.50" y1="56.40" x2="327.90" y2="56.40" stroke="#3d3d3d" stroke-width="1.1"/>
<line x1="327.30" y1="56.40" x2="327.30" y2="60.90" stroke="#3d3d3d" stroke-width="0.9"/>
<path d="M326.2,62.30 L326.9,60.60 L328.8,60.60 L328.6,62.30 Z" fill="#222"/>
<line x1="326.70" y1="97.60" x2="326.70" y2="108.60" stroke="#3d3d3d" stroke-width="1.0"/>
<line x1="326.50" y1="92.00" x2="327.90" y2="92.00" stroke="#3d3d3d" stroke-width="1.1"/>
<line x1="327.30" y1="92.00" x2="327.30" y2="96.50" stroke="#3d3d3d" stroke-width="0.9"/>
<path d="M326.2,97.90 L326.9,96.20 L328.8,96.20 L328.6,97.90 Z" fill="#222"/>
<line x1="326.70" y1="124.80" x2="326.70" y2="135.60" stroke="#3d3d3d" stroke-width="1.0"/>
<line x1="326.50" y1="119.20" x2="327.90" y2="119.20" stroke="#3d3d3d" stroke-width="1.1"/>
<line x1="327.30" y1="119.20" x2="327.30" y2="123.70" stroke="#3d3d3d" stroke-width="0.9"/>
<path d="M326.2,125.10 L326.9,123.40 L328.8,123.40 L328.6,125.10 Z" fill="#222"/>
<text x="446.20" y="17.90" font-family="'Liberation Sans', sans-serif" font-size="9.6" font-weight="bold" fill="#000" textLength="12.70" lengthAdjust="spacingAndGlyphs" >1m</text>
<text x="446.20" y="49.70" font-family="'Liberation Sans', sans-serif" font-size="9.6" font-weight="bold" fill="#000" textLength="12.70" lengthAdjust="spacingAndGlyphs" >2m</text>
<text x="446.20" y="98.80" font-family="'Liberation Sans', sans-serif" font-size="9.6" font-weight="bold" fill="#000" textLength="12.70" lengthAdjust="spacingAndGlyphs" >3m</text>
<text x="446.20" y="120.70" font-family="'Liberation Sans', sans-serif" font-size="9.6" font-weight="bold" fill="#000" textLength="12.70" lengthAdjust="spacingAndGlyphs" >6m</text>
<text x="403.30" y="134.10" font-family="'Liberation Sans', sans-serif" font-size="8.9" font-weight="bold" fill="#000" textLength="34.90" lengthAdjust="spacingAndGlyphs" >- RHO301</text>
<path d="M485.60,28.40 C486.55,28.53 489.83,28.93 491.30,29.20 C492.77,29.47 493.48,29.70 494.40,30.00 C495.32,30.30 495.95,30.00 496.80,31.00 C497.65,32.00 498.73,34.18 499.50,36.00 C500.27,37.82 500.82,39.57 501.40,41.90 C501.98,44.23 502.48,47.40 503.00,50.00 C503.52,52.60 504.00,55.93 504.50,57.50 C505.00,59.07 504.83,59.08 506.00,59.40 C507.17,59.72 510.32,59.78 511.50,59.40 C512.68,59.02 512.58,59.30 513.10,57.10 C513.62,54.90 514.08,49.37 514.60,46.20 C515.12,43.03 515.55,38.68 516.20,38.10 C516.85,37.52 517.78,41.28 518.50,42.70 C519.22,44.12 519.90,47.50 520.50,46.60 C521.10,45.70 521.58,41.45 522.10,37.30 C522.62,33.15 523.03,24.87 523.60,21.70 C524.17,18.53 524.87,18.30 525.50,18.30 C526.13,18.30 526.83,20.48 527.40,21.70 C527.97,22.92 528.18,25.72 528.90,25.60 C529.62,25.48 530.72,22.55 531.70,21.00 C532.68,19.45 533.77,17.52 534.80,16.30 C535.83,15.08 537.38,14.13 537.90,13.70 L542.60,9.60 L544.13,9.02 L545.67,9.93 L547.20,9.30 L548.46,8.59 L549.72,9.78 L550.98,8.80 L552.24,9.84 L553.50,9.30 L555.03,9.06 L556.57,10.01 L558.10,9.60 L560.10,9.80 L561.50,8.34 L562.90,8.65 L564.30,7.10 L565.77,7.15 L567.25,8.20 L568.73,7.85 L570.20,8.50 L571.48,9.32 L572.75,8.23 L574.02,9.26 L575.30,8.41 L576.58,10.04 L577.85,8.90 L579.12,10.20 L580.40,9.80 L581.72,9.55 L583.04,10.21 L584.37,9.52 L585.69,10.39 L587.01,9.84 L588.33,10.64 L589.66,10.08 L590.98,10.90 L592.30,10.50 L593.64,10.37 L594.98,11.85 L596.32,11.01 L597.66,12.43 L599.00,12.20 L600.36,11.64 L601.72,12.66 L603.08,11.54 L604.44,12.35 L605.80,11.90 L607.22,11.20 L608.63,12.75 L610.05,11.38 L611.47,12.70 L612.88,11.74 L614.30,12.20 L615.57,12.69 L616.85,12.06 L618.12,12.86 L619.40,12.70 L620.65,12.27 L621.90,13.55 L623.15,12.63 L624.40,13.50 L625.67,14.79 L626.95,14.47 L628.23,16.72 L629.50,16.90 L630.92,16.72 L632.33,17.39 L633.75,16.39 L635.17,17.65 L636.58,16.49 L638.00,17.30" fill="none" stroke="#3d3d3d" stroke-width="1.0" stroke-linejoin="round"/>
<path d="M485.60,64.60 C486.82,64.38 491.17,63.47 492.90,63.30 C494.63,63.13 495.23,63.22 496.00,63.60 C496.77,63.98 496.98,64.35 497.50,65.60 C498.02,66.85 498.57,69.02 499.10,71.10 C499.63,73.18 500.18,76.17 500.70,78.10 C501.22,80.03 501.68,81.53 502.20,82.70 C502.72,83.87 503.15,84.83 503.80,85.10 C504.45,85.37 505.20,84.57 506.10,84.30 C507.00,84.03 508.42,84.02 509.20,83.50 C509.98,82.98 510.28,82.62 510.80,81.20 C511.32,79.78 511.78,76.55 512.30,75.00 C512.82,73.45 513.38,72.17 513.90,71.90 C514.42,71.63 514.82,74.45 515.40,73.40 C515.98,72.35 516.75,68.32 517.40,65.60 C518.05,62.88 518.72,58.00 519.30,57.10 C519.88,56.20 520.38,59.17 520.90,60.20 C521.42,61.23 521.88,64.08 522.40,63.30 C522.92,62.52 523.48,57.57 524.00,55.50 C524.52,53.43 524.98,51.15 525.50,50.90 C526.02,50.65 526.58,53.23 527.10,54.00 C527.62,54.77 527.95,55.88 528.60,55.50 C529.25,55.12 530.22,52.60 531.00,51.70 C531.78,50.80 532.53,50.23 533.30,50.10 C534.07,49.97 534.70,51.28 535.60,50.90 C536.50,50.52 537.72,48.78 538.70,47.80 C539.68,46.82 541.03,45.47 541.50,45.00 L544.10,43.20 L545.67,42.55 L547.23,43.45 L548.80,42.70 L550.04,41.60 L551.28,41.98 L552.52,40.88 L553.76,41.06 L555.00,40.10 L556.55,39.06 L558.10,38.80 L559.95,39.71 L561.80,39.30 L563.14,38.46 L564.48,39.37 L565.82,38.05 L567.16,38.92 L568.50,38.10 L569.86,38.22 L571.22,39.45 L572.58,39.09 L573.94,40.56 L575.30,40.30 L576.77,39.60 L578.25,40.11 L579.73,38.74 L581.20,38.60 L582.40,39.77 L583.60,39.34 L584.80,40.79 L586.00,40.25 L587.20,41.50 L588.48,41.53 L589.75,40.77 L591.02,41.53 L592.30,40.60 L593.64,40.62 L594.98,41.94 L596.32,41.42 L597.66,43.40 L599.00,43.20 L600.36,43.13 L601.72,44.14 L603.08,43.60 L604.44,44.57 L605.80,44.40 L607.01,44.32 L608.23,45.70 L609.44,45.26 L610.66,46.62 L611.87,46.49 L613.09,47.97 L614.30,47.80 L615.57,47.17 L616.85,47.91 L618.12,46.73 L619.40,47.10 L620.65,48.44 L621.90,48.36 L623.15,49.92 L624.40,50.50 L625.67,49.96 L626.95,51.38 L628.23,49.99 L629.50,50.80 L630.71,51.74 L631.93,51.09 L633.14,52.30 L634.36,51.63 L635.57,53.17 L636.79,52.64 L638.00,53.30" fill="none" stroke="#3d3d3d" stroke-width="1.0" stroke-linejoin="round"/>
<path d="M485.60,95.10 C486.30,95.23 488.45,95.72 489.80,95.90 C491.15,96.08 492.53,95.68 493.70,96.20 C494.87,96.72 496.03,98.28 496.80,99.00 C497.57,99.72 497.87,99.20 498.30,100.50 C498.73,101.80 499.07,104.58 499.40,106.80 C499.73,109.02 499.97,111.87 500.30,113.80 C500.63,115.73 500.82,117.63 501.40,118.40 C501.98,119.17 503.02,119.05 503.80,118.40 C504.58,117.75 505.47,115.27 506.10,114.50 C506.73,113.73 506.95,113.80 507.60,113.80 C508.25,113.80 509.35,115.93 510.00,114.50 C510.65,113.07 510.98,108.17 511.50,105.20 C512.02,102.23 512.58,98.25 513.10,96.70 C513.62,95.15 514.13,95.00 514.60,95.90 C515.07,96.80 515.50,100.28 515.90,102.10 C516.30,103.92 516.63,107.58 517.00,106.80 C517.37,106.02 517.72,101.03 518.10,97.40 C518.48,93.77 518.97,88.35 519.30,85.00 C519.63,81.65 519.75,77.63 520.10,77.30 C520.45,76.97 520.97,80.93 521.40,83.00 C521.83,85.07 522.15,90.00 522.70,89.70 C523.25,89.40 523.72,82.48 524.70,81.20 C525.68,79.92 527.72,81.72 528.60,82.00 C529.48,82.28 529.27,83.07 530.00,82.90 C530.73,82.73 532.00,81.48 533.00,81.00 C534.00,80.52 534.80,79.82 536.00,80.00 C537.20,80.18 539.50,81.75 540.20,82.10 L543.00,84.50 L544.60,85.02 L546.20,86.30 L547.60,85.74 L549.00,84.00 L550.60,82.86 L552.20,82.90 L553.62,83.72 L555.03,82.86 L556.45,83.72 L557.87,83.18 L559.28,84.01 L560.70,83.80 L561.98,83.18 L563.25,84.12 L564.52,83.28 L565.80,84.16 L567.08,83.40 L568.35,84.27 L569.62,83.13 L570.90,83.80 L572.28,83.83 L573.66,82.50 L575.04,82.63 L576.42,81.40 L577.80,81.20 L578.93,82.75 L580.07,82.28 L581.20,83.80 L582.40,83.88 L583.60,81.99 L584.80,82.70 L586.00,81.50 L587.15,80.28 L588.30,81.15 L589.45,79.62 L590.60,79.50 L591.78,80.85 L592.96,80.37 L594.14,82.17 L595.32,81.69 L596.50,82.90 L597.73,83.61 L598.96,82.95 L600.19,84.09 L601.41,83.46 L602.64,84.42 L603.87,83.70 L605.10,84.60 L606.46,85.69 L607.82,84.74 L609.18,86.52 L610.54,85.83 L611.90,86.80 L613.30,86.99 L614.70,85.62 L616.10,85.50 L617.30,86.77 L618.50,86.39 L619.70,87.88 L620.90,87.87 L622.10,88.90 L623.46,89.67 L624.82,89.04 L626.18,90.16 L627.54,89.39 L628.90,90.20 L630.18,91.00 L631.47,90.58 L632.75,91.75 L634.03,91.23 L635.32,92.32 L636.60,92.30 L637.80,90.80" fill="none" stroke="#3d3d3d" stroke-width="1.0" stroke-linejoin="round"/>
<path d="M485.60,125.40 C486.95,125.40 491.37,125.35 493.70,125.40 C496.03,125.45 497.95,125.17 499.60,125.70 C501.25,126.23 502.45,127.45 503.60,128.60 C504.75,129.75 505.52,131.43 506.50,132.60 C507.48,133.77 508.50,134.72 509.50,135.60 C510.50,136.48 511.68,137.42 512.50,137.90 C513.32,138.38 513.75,138.73 514.40,138.50 C515.05,138.27 515.73,137.65 516.40,136.50 C517.07,135.35 517.73,132.75 518.40,131.60 C519.07,130.45 519.75,130.92 520.40,129.60 C521.05,128.28 521.65,126.17 522.30,123.70 C522.95,121.23 523.73,116.77 524.30,114.80 C524.87,112.83 525.20,111.90 525.70,111.90 C526.20,111.90 526.77,113.65 527.30,114.80 C527.83,115.95 528.32,119.28 528.90,118.80 C529.48,118.32 530.15,114.43 530.80,111.90 C531.45,109.37 532.13,104.27 532.80,103.60 C533.47,102.93 534.07,106.03 534.80,107.90 C535.53,109.77 536.32,114.30 537.20,114.80 C538.08,115.30 539.62,111.55 540.10,110.90 L543.10,108.90 L544.52,108.20 L545.95,108.70 L547.38,107.12 L548.80,107.30 L550.07,107.72 L551.35,106.31 L552.62,106.78 L553.90,106.10 L555.26,105.24 L556.62,106.20 L557.98,104.98 L559.34,105.73 L560.70,104.90 L562.06,104.59 L563.42,105.82 L564.78,105.01 L566.14,105.82 L567.50,105.60 L568.77,104.80 L570.05,105.83 L571.33,104.92 L572.60,105.20 L573.98,106.13 L575.36,105.19 L576.74,106.36 L578.12,105.79 L579.50,106.60 L580.86,107.52 L582.22,106.95 L583.58,108.20 L584.94,107.65 L586.30,108.30 L587.72,108.92 L589.13,108.41 L590.55,109.25 L591.97,108.36 L593.38,109.75 L594.80,109.50 L596.03,109.07 L597.26,110.60 L598.49,109.89 L599.71,111.44 L600.94,110.48 L602.17,111.69 L603.40,111.70 L604.67,110.99 L605.93,111.93 L607.20,110.86 L608.47,111.33 L609.73,110.18 L611.00,110.70 L612.08,111.88 L613.15,111.70 L614.22,113.20 L615.30,113.40 L616.66,113.28 L618.02,114.53 L619.38,113.62 L620.74,114.66 L622.10,114.60 L623.31,114.26 L624.53,115.52 L625.74,115.15 L626.96,116.12 L628.17,115.55 L629.39,116.79 L630.60,116.80 L631.98,116.19 L633.36,116.90 L634.74,116.01 L636.12,116.99 L637.50,116.30" fill="none" stroke="#3d3d3d" stroke-width="1.0" stroke-linejoin="round"/>
<text x="493.80" y="23.40" font-family="'Liberation Mono', monospace" font-size="9.2" font-weight="bold" fill="#1a1a1a" textLength="3.30" lengthAdjust="spacingAndGlyphs" >R</text>
<line x1="493.50" y1="24.80" x2="493.50" y2="35.70" stroke="#3d3d3d" stroke-width="1.0"/>
<text x="493.80" y="59.10" font-family="'Liberation Mono', monospace" font-size="9.2" font-weight="bold" fill="#1a1a1a" textLength="3.30" lengthAdjust="spacingAndGlyphs" >R</text>
<line x1="493.50" y1="60.50" x2="493.50" y2="71.00" stroke="#3d3d3d" stroke-width="1.0"/>
<text x="493.80" y="90.00" font-family="'Liberation Mono', monospace" font-size="9.2" font-weight="bold" fill="#1a1a1a" textLength="3.30" lengthAdjust="spacingAndGlyphs" >R</text>
<line x1="493.50" y1="91.00" x2="493.50" y2="101.50" stroke="#3d3d3d" stroke-width="1.0"/>
<text x="493.80" y="120.20" font-family="'Liberation Mono', monospace" font-size="9.2" font-weight="bold" fill="#1a1a1a" textLength="3.30" lengthAdjust="spacingAndGlyphs" >R</text>
<line x1="493.50" y1="120.40" x2="493.50" y2="130.90" stroke="#3d3d3d" stroke-width="1.0"/>
<text x="616.30" y="8.80" font-family="'Liberation Sans', sans-serif" font-size="9.6" font-weight="bold" fill="#000" textLength="13.30" lengthAdjust="spacingAndGlyphs" >1m</text>
<text x="616.30" y="40.70" font-family="'Liberation Sans', sans-serif" font-size="9.6" font-weight="bold" fill="#000" textLength="13.30" lengthAdjust="spacingAndGlyphs" >2m</text>
<text x="616.30" y="82.00" font-family="'Liberation Sans', sans-serif" font-size="9.6" font-weight="bold" fill="#000" textLength="13.30" lengthAdjust="spacingAndGlyphs" >3m</text>
<text x="616.30" y="109.30" font-family="'Liberation Sans', sans-serif" font-size="9.6" font-weight="bold" fill="#000" textLength="13.30" lengthAdjust="spacingAndGlyphs" >6m</text>
<text x="545.20" y="134.70" font-family="'Liberation Sans', sans-serif" font-size="8.9" font-weight="bold" fill="#000" textLength="35.90" lengthAdjust="spacingAndGlyphs" >+ RHO301</text>
</svg>
</body></html>
